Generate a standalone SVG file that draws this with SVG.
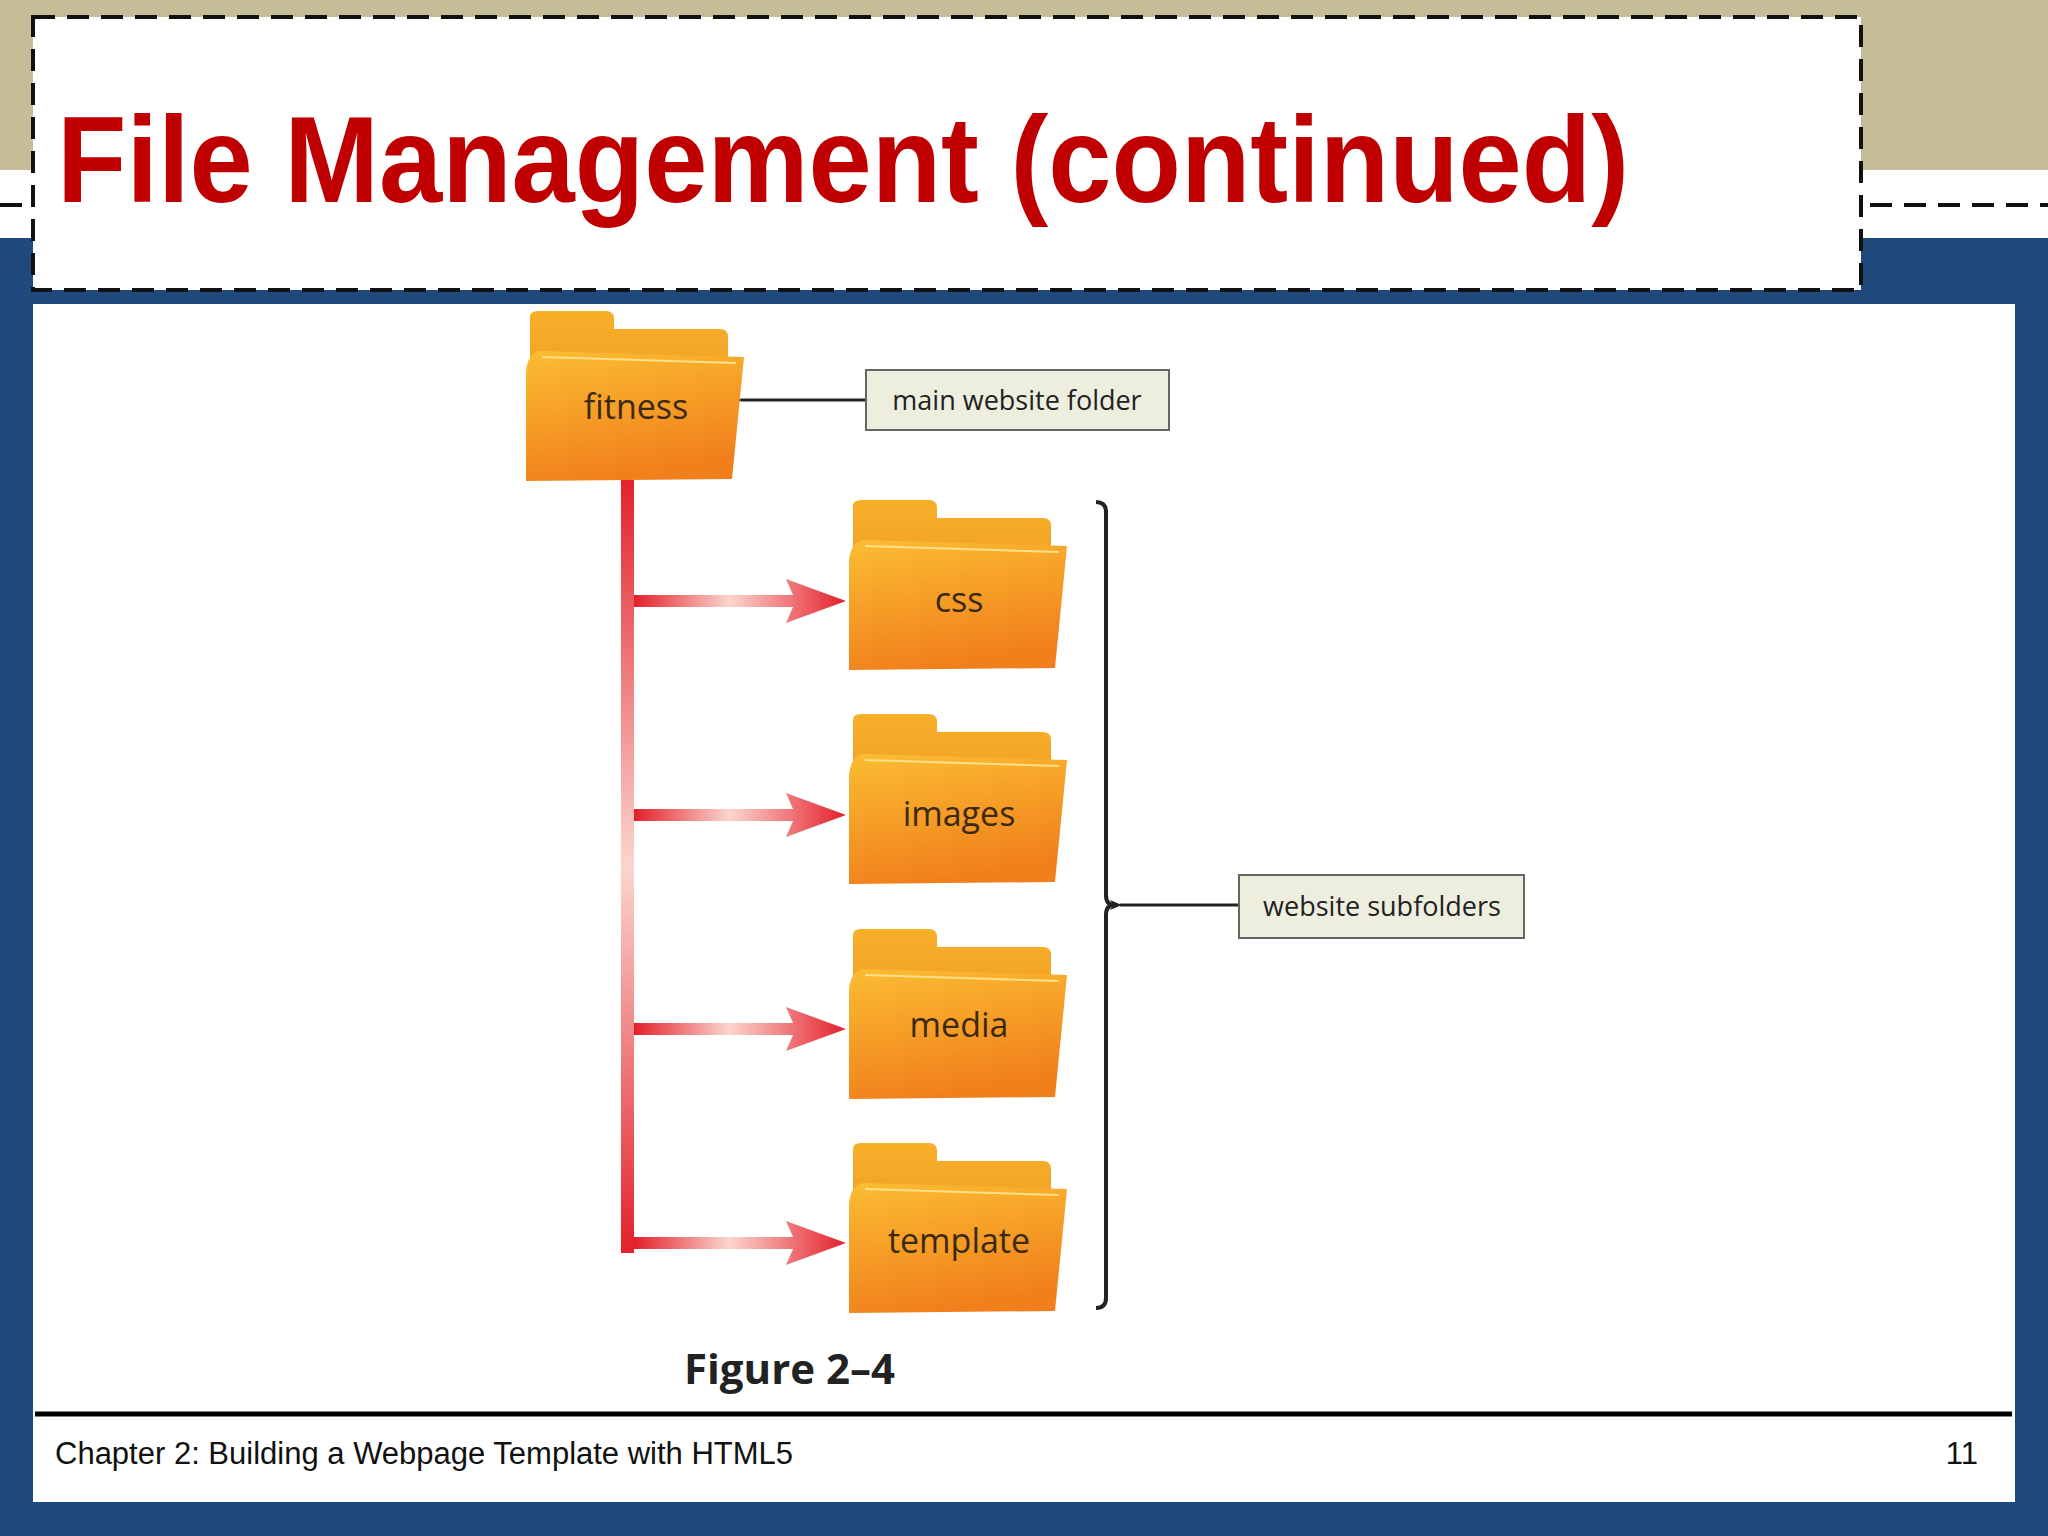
<svg xmlns="http://www.w3.org/2000/svg" width="2048" height="1536" viewBox="0 0 2048 1536">
<style>
.ft{font-family:"Open Sans","Liberation Sans",sans-serif;font-size:34px;fill:#3b2a12;text-anchor:middle}
.lb{font-family:"Open Sans","Liberation Sans",sans-serif;font-size:27px;fill:#222;text-anchor:middle}
.box{fill:#eeeedf;stroke:#666;stroke-width:2}
</style>
<defs>
<linearGradient id="fg" x1="0" y1="0" x2="0.3" y2="1">
<stop offset="0" stop-color="#fbbd32"/><stop offset="1" stop-color="#f1801c"/>
</linearGradient>
<linearGradient id="bg" x1="0" y1="0" x2="0" y2="1">
<stop offset="0" stop-color="#f7b02a"/><stop offset="1" stop-color="#e98a1e"/>
</linearGradient>
<linearGradient id="rg" x1="0" y1="0" x2="1" y2="0">
<stop offset="0" stop-color="#e3202a"/><stop offset="0.45" stop-color="#fbd5cf"/><stop offset="1" stop-color="#e3202a"/>
</linearGradient>
<linearGradient id="tg" x1="0" y1="0" x2="0" y2="1">
<stop offset="0" stop-color="#e3202a"/><stop offset="0.5" stop-color="#fbd5cf"/><stop offset="1" stop-color="#e3202a"/>
</linearGradient>
<g id="folder">
<path d="M4 6 Q4 0 12 0 L80 0 Q88 0 88 8 L88 18 L194 18 Q202 18 202 26 L202 160 L4 160 Z" fill="url(#bg)"/>
<path d="M14 40 L218 46 L206 168 L0 170 L0 60 Q2 42 14 40 Z" fill="url(#fg)"/>
<path d="M16 46 L210 52" stroke="#fde08a" stroke-width="2" fill="none"/>
</g>
<marker id="ah" markerWidth="12" markerHeight="10" refX="2" refY="5" orient="auto" markerUnits="userSpaceOnUse"><path d="M12 0 L0 5 L12 10 L9 5 Z" fill="#222"/></marker>
</defs>
<rect width="2048" height="1536" fill="#1f497d"/>
<rect width="2048" height="170" fill="#c4bd97"/>
<rect y="170" width="2048" height="68" fill="#fff"/>
<line x1="0" y1="205" x2="2048" y2="205" stroke="#111" stroke-width="4" stroke-dasharray="22,12"/>
<rect x="33" y="17" width="1828" height="273" fill="#fff" stroke="#111" stroke-width="4" stroke-dasharray="22,12"/>
<text x="57" y="202" font-family="'Liberation Sans',Arial,sans-serif" font-weight="bold" font-size="122" fill="#c00000" textLength="1572" lengthAdjust="spacingAndGlyphs">File Management (continued)</text>
<rect x="33" y="304" width="1982" height="1198" fill="#fff"/>
<line x1="35" y1="1414" x2="2012" y2="1414" stroke="#000" stroke-width="5"/>
<text x="55" y="1464" font-family="'Liberation Sans',Arial,sans-serif" font-size="31" fill="#111">Chapter 2: Building a Webpage Template with HTML5</text>
<text x="1978" y="1464" font-family="'Liberation Sans',Arial,sans-serif" font-size="31" fill="#111" text-anchor="end">11</text>
<g id="connectors">
<rect x="621" y="478" width="13" height="775" fill="url(#tg)"/>
<g fill="url(#rg)">
<path d="M634 595 L793 595 L786 579 L846 601 L786 623 L793 607 L634 607 Z"/>
<path d="M634 809 L793 809 L786 793 L846 815 L786 837 L793 821 L634 821 Z"/>
<path d="M634 1023 L793 1023 L786 1007 L846 1029 L786 1051 L793 1035 L634 1035 Z"/>
<path d="M634 1237 L793 1237 L786 1221 L846 1243 L786 1265 L793 1249 L634 1249 Z"/>
</g>
<line x1="866" y1="400" x2="741" y2="400" stroke="#222" stroke-width="3" marker-end="url(#ah)"/>
<path d="M1096 502 Q1106 502 1106 512 L1106 895 Q1106 905 1114 905 Q1106 905 1106 915 L1106 1298 Q1106 1308 1096 1308" fill="none" stroke="#222" stroke-width="4"/>
<line x1="1239" y1="905" x2="1120" y2="905" stroke="#222" stroke-width="3" marker-end="url(#ah)"/>
</g>
<g id="fitness"><use href="#folder" x="526" y="311"/><text class="ft" x="636" y="419">fitness</text></g>
<g id="css"><use href="#folder" x="849" y="500"/><text class="ft" x="959" y="612">css</text></g>
<g id="images"><use href="#folder" x="849" y="714"/><text class="ft" x="959" y="826">images</text></g>
<g id="media"><use href="#folder" x="849" y="929"/><text class="ft" x="959" y="1037">media</text></g>
<g id="template"><use href="#folder" x="849" y="1143"/><text class="ft" x="959" y="1253">template</text></g>
<g id="main-label"><rect class="box" x="866" y="370" width="303" height="60"/><text class="lb" x="1017" y="410">main website folder</text></g>
<g id="sub-label"><rect class="box" x="1239" y="875" width="285" height="63"/><text class="lb" x="1382" y="916">website subfolders</text></g>
<text x="684" y="1384" font-family="'Open Sans','Liberation Sans',sans-serif" font-weight="bold" font-size="42" fill="#222">Figure 2–4</text>
</svg>
